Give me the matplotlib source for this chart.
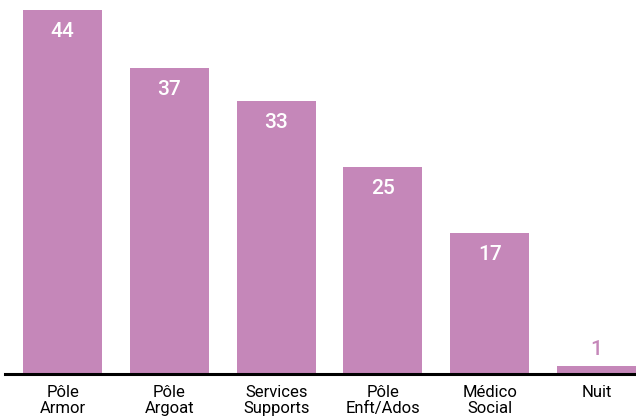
import matplotlib
matplotlib.use("Agg")
import matplotlib.pyplot as plt

categories = ["Pôle\nArmor", "Pôle\nArgoat", "Services\nSupports", "Pôle\nEnft/Ados", "Médico\nSocial", "Nuit"]
values = [44, 37, 33, 25, 17, 1]

bar_color = "#C587B9"
plt.rcParams['font.family'] = ['Roboto', 'DejaVu Sans']

fig = plt.figure(figsize=(6.36, 4.16), dpi=100)
ax = fig.add_axes([5/636, 42/416, 631/636, 374/416])
x = list(range(len(values)))
bars = ax.bar(x, values, width=0.74, color=bar_color)
ax.set_xlim(-0.54, 5.37)
ax.set_ylim(0, 45.2)

for xi, v in zip(x, values):
    if v >= 5:
        ax.annotate(str(v), (xi, v), xytext=(0, -8.5), textcoords="offset points",
                    ha="center", va="top", color="white", fontsize=15, fontweight="medium")
    else:
        ax.annotate(str(v), (xi, v), xytext=(0, 5), textcoords="offset points",
                    ha="center", va="bottom", color=bar_color, fontsize=15, fontweight="medium")

ax.set_xticks(x)
ax.set_xticklabels(categories, fontsize=12, linespacing=1.1)
ax.tick_params(axis="x", length=0, pad=8)
ax.set_yticks([])
for s in ["top", "right", "left"]:
    ax.spines[s].set_visible(False)
ax.spines["bottom"].set_linewidth(2.2)
ax.spines["bottom"].set_color("black")

fig.savefig("out.png", dpi=100)
